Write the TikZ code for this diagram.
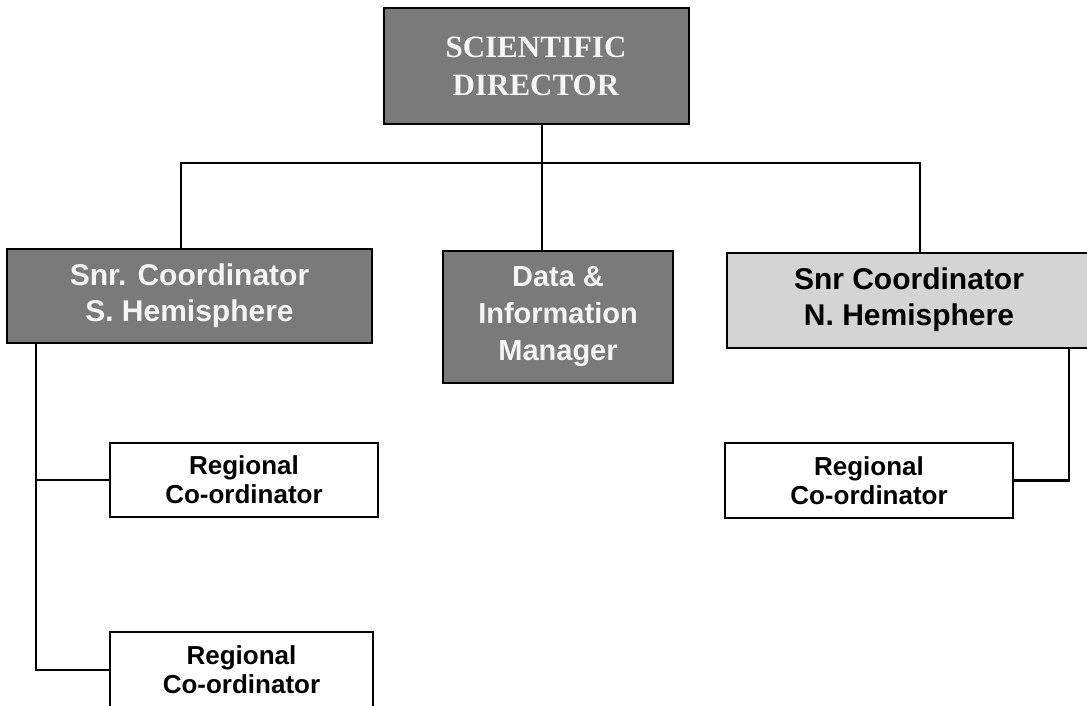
\documentclass[tikz,border=0pt]{standalone}
\usepackage{fontspec}
\setmainfont{Liberation Sans}
\newfontfamily\dirfont{Liberation Serif}
\usetikzlibrary{calc}

\begin{document}
\begin{tikzpicture}[x=1pt,y=-1pt,
    darkbox/.style={draw,line width=2pt,fill=black!52,text=gray!8,align=center,inner sep=0pt},
    lightbox/.style={draw,line width=2pt,fill=black!17,align=center,inner sep=0pt},
    regbox/.style={draw,line width=1.8pt,fill=white,align=center,inner sep=0pt,
      font=\fontsize{26}{29}\selectfont\bfseries},
    link/.style={line width=1.3pt},
    thicklink/.style={line width=2.2pt}]
  \useasboundingbox (0,0) rectangle (1087,706);

  %% Boxes of the chart
  \node[darkbox,minimum width=305pt,minimum height=116pt,
    font=\dirfont\fontsize{31}{38}\selectfont\bfseries] (dir) at (536,66)
    {SCIENTIFIC\\DIRECTOR};
  \node[darkbox,minimum width=365pt,minimum height=94pt,
    font=\fontsize{30}{36}\selectfont\bfseries] (snrS) at (189.5,295.5)
    {Snr. Coordinator\\S. Hemisphere};
  \node[darkbox,minimum width=230pt,minimum height=132pt,
    font=\fontsize{29}{37}\selectfont\bfseries] (data) at (558,317)
    {Data \&\\Information\\Manager};
  \node[lightbox,minimum width=365pt,minimum height=95pt,
    font=\fontsize{30}{36}\selectfont\bfseries] (snrN) at (909,300)
    {Snr Coordinator\\N. Hemisphere};

  \node[regbox,minimum width=268pt,minimum height=74pt] (regS1) at (244,480)
    {Regional\\Co-ordinator};
  \node[regbox,minimum width=263pt,minimum height=76pt] (regS2) at (241.5,670)
    {Regional\\Co-ordinator};
  \node[regbox,minimum width=288pt,minimum height=75pt] (regN) at (869,480.5)
    {Regional\\Co-ordinator};

  %% Lines from the director
  \coordinate (trunk) at (542,163);
  \coordinate (busL) at (181,163);
  \coordinate (busR) at (920,163);
  \draw[link] (trunk |- dir.south) -- (trunk |- data.north);
  \draw[link] (snrS.north -| busL) -- (busL) -- (busR) -- (snrN.north -| busR);

  %% Lines to the regional boxes
  \coordinate (colS) at (36,0);
  \coordinate (colN) at (1069,0);
  \draw[thicklink] (snrS.south -| colS) |- (regS2.west);
  \draw[thicklink] (colS |- regS1.west) -- (regS1.west);
  \draw[thicklink] (snrN.south -| colN) |- (regN.east);
\end{tikzpicture}
\end{document}
